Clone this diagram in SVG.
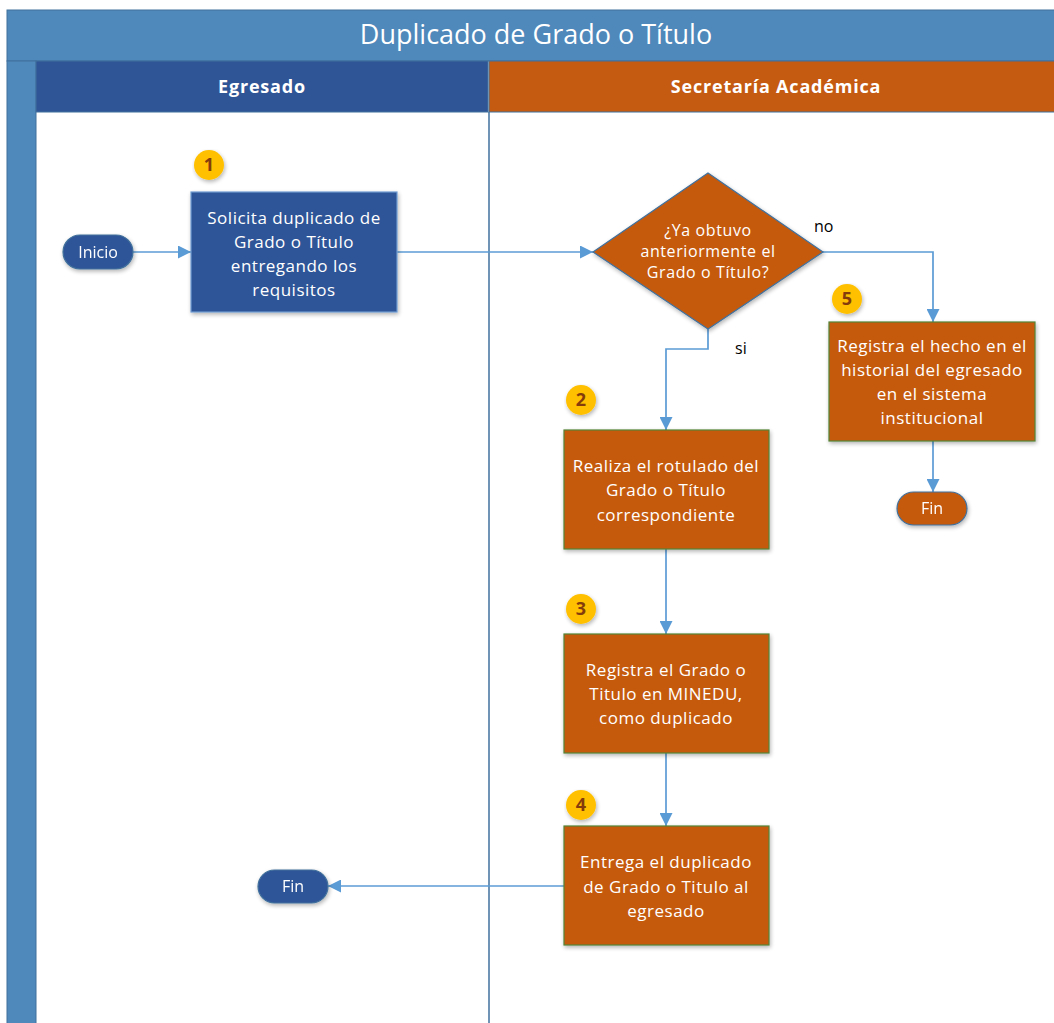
<svg xmlns="http://www.w3.org/2000/svg" width="1054" height="1023" viewBox="0 0 1054 1023">
  <defs>
    <style>
      .t { font-family: "Open Sans", "Liberation Sans", sans-serif; fill: #ffffff; text-anchor: middle; }
      .box { font-size: 17px; letter-spacing: 0.5px; }
      .dec { font-size: 16px; letter-spacing: 0.6px; }
      .term { font-size: 16px; }
      .hdr { font-size: 18px; font-weight: bold; letter-spacing: 0.8px; }
      .blue { fill: #2F5597; stroke: #6F9BD1; stroke-width: 1.2; }
      .orange { fill: #C55A11; stroke: #548235; stroke-width: 1.2; }
      .term-b { fill: #2F5597; stroke: #41719C; stroke-width: 1.2; }
      .term-o { fill: #C55A11; stroke: #41719C; stroke-width: 1.2; }
      .badge { fill: #FFC000; }
      .num { font-family: "Open Sans", "Liberation Sans", sans-serif; font-size: 18px; font-weight: bold; fill: #843C0C; text-anchor: middle; }
      .lbl { font-family: "Open Sans", "Liberation Sans", sans-serif; font-size: 16px; fill: #000000; }
      .conn { fill: none; stroke: #5B9BD5; stroke-width: 1.7; }
    </style>
    <marker id="arrow" viewBox="0 0 12 12" refX="12" refY="6" markerWidth="13" markerHeight="13" markerUnits="userSpaceOnUse" orient="auto">
      <path d="M0,0 L12,6 L0,12 z" fill="#5B9BD5"/>
    </marker>
    <filter id="shadow" x="-10%" y="-10%" width="130%" height="130%">
      <feGaussianBlur in="SourceAlpha" stdDeviation="2"/>
      <feOffset dx="1" dy="2"/>
      <feComponentTransfer><feFuncA type="linear" slope="0.3"/></feComponentTransfer>
      <feMerge><feMergeNode/><feMergeNode in="SourceGraphic"/></feMerge>
    </filter>
  </defs>

  <!-- pool frame -->
  <g id="pool">
    <rect x="7" y="10" width="1060" height="51" fill="#4F88BB" stroke="#41719C" stroke-width="1"/>
    <rect x="7" y="61" width="29" height="970" fill="#4F88BB" stroke="#41719C" stroke-width="1"/>
    <text class="t" x="536" y="44" font-size="27">Duplicado de Grado o Título</text>
  </g>

  <!-- lanes -->
  <g id="lane-egresado">
    <rect x="36" y="61" width="452" height="51" fill="#2F5597" stroke="#41719C" stroke-width="1"/>
    <text class="t hdr" x="262" y="93">Egresado</text>
  </g>
  <g id="lane-secretaria">
    <rect x="489" y="61" width="580" height="51" fill="#C55A11" stroke="#41719C" stroke-width="1"/>
    <text class="t hdr" x="776" y="93">Secretaría Académica</text>
  </g>
  <line x1="489" y1="112" x2="489" y2="1023" stroke="#41719C" stroke-width="1.5"/>

  <!-- connectors -->
  <g id="connectors">
    <path class="conn" d="M133,252 H191" marker-end="url(#arrow)"/>
    <path class="conn" d="M397,252 H593" marker-end="url(#arrow)"/>
    <path class="conn" d="M823,252 H933 V322" marker-end="url(#arrow)"/>
    <path class="conn" d="M708,329 V349 H666 V430" marker-end="url(#arrow)"/>
    <path class="conn" d="M666,549 V634" marker-end="url(#arrow)"/>
    <path class="conn" d="M666,753 V826" marker-end="url(#arrow)"/>
    <path class="conn" d="M564,886 H328" marker-end="url(#arrow)"/>
    <path class="conn" d="M933,441 V492" marker-end="url(#arrow)"/>
    <text class="lbl" x="814" y="232">no</text>
    <text class="lbl" x="735" y="354">si</text>
  </g>

  <g id="inicio" filter="url(#shadow)">
    <rect class="term-b" x="63" y="235" width="70" height="34" rx="17"/>
    <text class="t term" x="98" y="258">Inicio</text>
  </g>

  <g id="step1">
    <circle class="badge" cx="209" cy="165" r="15" filter="url(#shadow)"/>
    <text class="num" x="209" y="171">1</text>
    <rect class="blue" x="191" y="192" width="206" height="120" filter="url(#shadow)"/>
    <text class="t box" x="294" y="224">Solicita duplicado de</text>
    <text class="t box" x="294" y="248">Grado o Título</text>
    <text class="t box" x="294" y="272">entregando los</text>
    <text class="t box" x="294" y="296">requisitos</text>
  </g>

  <g id="decision">
    <polygon points="708,173 823,252 708,329 593,252" fill="#C55A11" stroke="#41719C" stroke-width="1.2" filter="url(#shadow)"/>
    <text class="t dec" x="708" y="236">¿Ya obtuvo</text>
    <text class="t dec" x="708" y="257">anteriormente el</text>
    <text class="t dec" x="708" y="278">Grado o Título?</text>
  </g>

  <g id="step2">
    <circle class="badge" cx="581" cy="400" r="15" filter="url(#shadow)"/>
    <text class="num" x="581" y="406">2</text>
    <rect class="orange" x="564" y="430" width="205" height="119" filter="url(#shadow)"/>
    <text class="t box" x="666" y="472">Realiza el rotulado del</text>
    <text class="t box" x="666" y="496">Grado o Título</text>
    <text class="t box" x="666" y="521">correspondiente</text>
  </g>

  <g id="step3">
    <circle class="badge" cx="581" cy="609" r="15" filter="url(#shadow)"/>
    <text class="num" x="581" y="615">3</text>
    <rect class="orange" x="564" y="634" width="205" height="119" filter="url(#shadow)"/>
    <text class="t box" x="666" y="676">Registra el Grado o</text>
    <text class="t box" x="666" y="700">Titulo en MINEDU,</text>
    <text class="t box" x="666" y="724">como duplicado</text>
  </g>

  <g id="step4">
    <circle class="badge" cx="581" cy="805" r="15" filter="url(#shadow)"/>
    <text class="num" x="581" y="811">4</text>
    <rect class="orange" x="564" y="826" width="205" height="119" filter="url(#shadow)"/>
    <text class="t box" x="666" y="868">Entrega el duplicado</text>
    <text class="t box" x="666" y="893">de Grado o Titulo al</text>
    <text class="t box" x="666" y="917">egresado</text>
  </g>

  <g id="fin-egresado" filter="url(#shadow)">
    <rect class="term-b" x="258" y="870" width="70" height="33" rx="16.5"/>
    <text class="t term" x="293" y="892">Fin</text>
  </g>

  <g id="step5">
    <circle class="badge" cx="847" cy="299" r="15" filter="url(#shadow)"/>
    <text class="num" x="847" y="305">5</text>
    <rect class="orange" x="829" y="322" width="206" height="119" filter="url(#shadow)"/>
    <text class="t box" x="932" y="352">Registra el hecho en el</text>
    <text class="t box" x="932" y="376">historial del egresado</text>
    <text class="t box" x="932" y="400">en el sistema</text>
    <text class="t box" x="932" y="424">institucional</text>
  </g>

  <g id="fin-secretaria" filter="url(#shadow)">
    <rect class="term-o" x="897" y="492" width="70" height="33" rx="16.5"/>
    <text class="t term" x="932" y="514">Fin</text>
  </g>
</svg>
